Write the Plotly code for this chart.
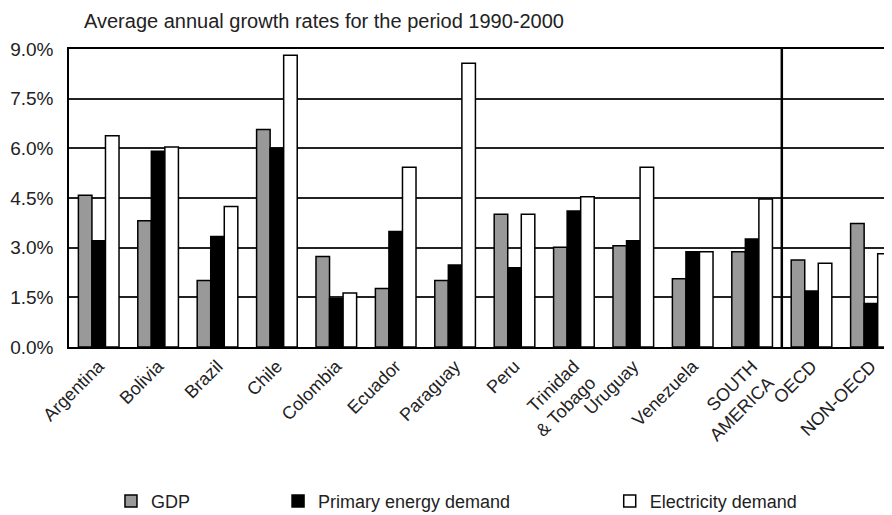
import plotly.graph_objects as go

categories = ["Argentina", "Bolivia", "Brazil", "Chile", "Colombia", "Ecuador", "Paraguay",
              "Peru", "Trinidad<br>& Tobago", "Uruguay", "Venezuela", "SOUTH<br>AMERICA",
              "OECD", "NON-OECD"]
gdp = [4.58, 3.81, 2.01, 6.57, 2.73, 1.77, 2.01, 4.01, 3.01, 3.06, 2.06, 2.88, 2.63, 3.73]
primary = [3.21, 5.91, 3.34, 6.00, 1.46, 3.49, 2.48, 2.39, 4.11, 3.21, 2.88, 3.26, 1.69, 1.31]
electricity = [6.38, 6.04, 4.24, 8.81, 1.63, 5.43, 8.57, 4.01, 4.54, 5.43, 2.88, 4.47, 2.53, 2.82]
y_ticks = [0, 1.5, 3.0, 4.5, 6.0, 7.5, 9.0]
y_tick_labels = ["0.0%", "1.5%", "3.0%", "4.5%", "6.0%", "7.5%", "9.0%"]
title_text = "Average annual growth rates for the period 1990-2000"

FONT = "Liberation Sans, Arial, sans-serif"
TXT = "#222222"

# The page body adds an 8px offset; the figure is sized/margined to compensate.
W, H = 892, 530

fig = go.Figure()
series = [
    ("GDP", gdp, "#999999", "legend"),
    ("Primary energy demand", primary, "#000000", "legend2"),
    ("Electricity demand", electricity, "#ffffff", "legend3"),
]
for name, vals, color, leg in series:
    fig.add_trace(go.Bar(
        x=categories, y=vals, name=name, legend=leg, showlegend=True,
        marker=dict(color=color, line=dict(color="#000000", width=1.5)),
    ))

fig.add_vline(x=11.5, line=dict(color="#000000", width=2.5), layer="above")

leg_common = dict(orientation="h", yanchor="middle", xanchor="left",
                  font=dict(family=FONT, size=18, color=TXT),
                  bgcolor="rgba(0,0,0,0)", borderwidth=0)

fig.update_layout(
    width=W, height=H,
    margin=dict(l=61, r=8, t=41, b=H - 41 - 298),
    showlegend=True,
    paper_bgcolor="white", plot_bgcolor="white",
    barmode="group", bargap=0.316, bargroupgap=0,
    font=dict(family=FONT, color=TXT),
    title=dict(text=title_text, x=76 / W, xanchor="left", y=1 - 13 / H, yanchor="middle",
               font=dict(family=FONT, size=20, color=TXT)),
    legend=dict(x=0.051, y=-0.518, **leg_common),
    legend2=dict(x=0.254, y=-0.518, **leg_common),
    legend3=dict(x=0.657, y=-0.518, **leg_common),
    xaxis=dict(range=[-0.5, 13.355], showline=True, linecolor="#000000", linewidth=1.5,
               mirror=True, ticks="", tickangle=-45, showgrid=False, automargin=False,
               tickfont=dict(family=FONT, size=18, color=TXT)),
    yaxis=dict(range=[0, 9], tickvals=y_ticks, ticktext=y_tick_labels,
               showline=True, linecolor="#000000", linewidth=1.5, ticks="",
               showgrid=True, gridcolor="#222222", gridwidth=1.5, zeroline=False,
               ticklabelstandoff=10, automargin=False,
               tickfont=dict(family=FONT, size=19, color=TXT)),
)

fig.write_html("out.html")
